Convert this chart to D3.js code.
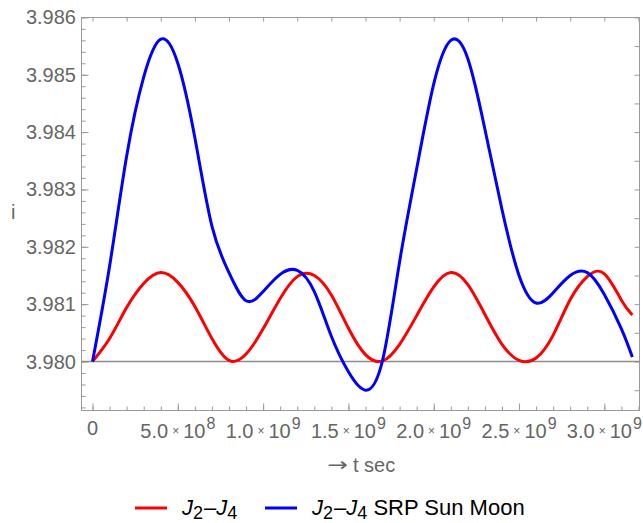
<!DOCTYPE html>
<html>
<head>
<meta charset="utf-8">
<script src="https://cdn.jsdelivr.net/npm/d3@7"></script>
<style>
  body { margin: 0; background: #fff; }
  svg { display: block; font-family: "Liberation Sans", Arial, sans-serif; }
</style>
</head>
<body>
<div id="chart"></div>
<script>
// time samples (units of 1e8 s)
var tSamples = [0, 1, 2, 3, 4, 5, 6, 7, 8, 9, 10, 11, 12, 13, 14, 15, 16, 17, 18, 19, 20,
  21, 22, 23, 24, 25, 26, 27, 28, 29, 30, 31, 31.64];

// inclination, J2-J4 only
var incJ2J4 = [3.98000, 3.98040, 3.98094, 3.98136, 3.98155, 3.98138, 3.98096, 3.98040, 3.98002,
  3.98013, 3.98057, 3.98110, 3.98148, 3.98150, 3.98116, 3.98058, 3.98012, 3.98001, 3.98030,
  3.98080, 3.98130, 3.98155, 3.98134, 3.98082, 3.98030, 3.98002, 3.98006, 3.98046, 3.98108,
  3.98148, 3.98153, 3.98107, 3.98081];

// inclination, J2-J4 + SRP + Sun + Moon
var incFull = [3.98000, 3.98166, 3.98358, 3.98496, 3.98562, 3.98520, 3.98390, 3.98236, 3.98155,
  3.98106, 3.98122, 3.98152, 3.98159, 3.98122, 3.98044, 3.97982, 3.97950, 3.98002, 3.98174,
  3.98336, 3.98484, 3.98560, 3.98528, 3.98405, 3.98265, 3.98150, 3.98102, 3.98120, 3.98150,
  3.98155, 3.98117, 3.98057, 3.98008];

var xTicks = [0, 5e8, 1e9, 1.5e9, 2e9, 2.5e9, 3e9];
var xMant = ["0", "5.0", "1.0", "1.5", "2.0", "2.5", "3.0"];
var xExp = ["", "8", "9", "9", "9", "9", "9"];
var yTicks = [3.980, 3.981, 3.982, 3.983, 3.984, 3.985, 3.986];
var yTickLabels = ["3.980", "3.981", "3.982", "3.983", "3.984", "3.985", "3.986"];

var seriesNames = ["", " SRP Sun Moon"];
var seriesColours = ["#ff0000", "#0000ff"];

var width = 643, height = 523;
var L = 81.5, R = 639.5, T = 17.5, B = 410.5;
var frameColour = "#9a9a9a", labelColour = "#666";

var x = d3.scaleLinear().domain([-0.645e8, 32.06e8]).range([L, R]);
var y = d3.scaleLinear().domain([3.979146, 3.985998]).range([B, T]);

var svg = d3.select("#chart").append("svg")
  .attr("width", width)
  .attr("height", height);

// ticks (all pointing inward)
function tickAxis(axis, vals, size, tr) {
  var g = svg.append("g")
    .attr("transform", tr)
    .call(axis.tickValues(vals).tickSize(size).tickSizeOuter(0).tickFormat(""));
  g.select(".domain").remove();
  g.selectAll("line").attr("stroke", frameColour).attr("stroke-width", 1);
  return g;
}
var minorX = d3.range(0, 33).map(function(d) { return d * 1e8; });
var minorY = d3.range(0, 35).map(function(d) { return 3.9792 + d * 0.0002; })
  .filter(function(d) { return d <= 3.98601; });
var topX = d3.range(0, 17).map(function(d) { return d * 2e8; });
var rightY = d3.range(0, 14).map(function(d) { return 3.9795 + d * 0.0005; });

tickAxis(d3.axisBottom(x), minorX, -4, "translate(0," + B + ")");
tickAxis(d3.axisBottom(x), xTicks, -7, "translate(0," + B + ")");
tickAxis(d3.axisTop(x), topX, -4, "translate(0," + T + ")");
tickAxis(d3.axisLeft(y), minorY, -4, "translate(" + L + ",0)");
tickAxis(d3.axisLeft(y), yTicks, -7, "translate(" + L + ",0)");
tickAxis(d3.axisRight(y), rightY, -5, "translate(" + R + ",0)");

// frame
svg.append("rect")
  .attr("x", L).attr("y", T)
  .attr("width", R - L).attr("height", B - T)
  .attr("fill", "none")
  .attr("stroke", frameColour)
  .attr("stroke-width", 1);

// reference line at 3.980
svg.append("line")
  .attr("x1", L).attr("x2", R)
  .attr("y1", y(3.980)).attr("y2", y(3.980))
  .attr("stroke", "#8c8c8c")
  .attr("stroke-width", 1.3);

// curves
var line = d3.line()
  .x(function(d) { return x(d[0] * 1e8); })
  .y(function(d) { return y(d[1]); })
  .curve(d3.curveNatural);

[incJ2J4, incFull].forEach(function(vals, k) {
  svg.append("path")
    .datum(tSamples.map(function(t, i) { return [t, vals[i]]; }))
    .attr("fill", "none")
    .attr("stroke", seriesColours[k])
    .attr("stroke-width", 3)
    .attr("stroke-linejoin", "round")
    .attr("d", line);
});

// y tick labels
svg.append("g").selectAll("text")
  .data(yTicks)
  .enter().append("text")
  .attr("x", 76)
  .attr("y", function(d) { return y(d) + 7; })
  .attr("text-anchor", "end")
  .attr("font-size", 20)
  .attr("fill", labelColour)
  .text(function(d, i) { return yTickLabels[i]; });

// x tick labels: mantissa x 10^exp
xTicks.forEach(function(v, i) {
  var t = svg.append("text")
    .attr("x", x(v))
    .attr("y", i === 0 ? 435 : 438)
    .attr("text-anchor", "middle")
    .attr("font-size", 20)
    .attr("fill", labelColour);
  t.append("tspan").text(xMant[i]);
  if (xExp[i]) {
    t.append("tspan").attr("font-size", 12).attr("dx", 4).attr("dy", -3).text("\u00d7");
    t.append("tspan").attr("dx", 4).attr("dy", 3).text("10");
    t.append("tspan").attr("font-size", 16).attr("dx", 1).attr("dy", -9).text(xExp[i]);
  }
});

// axis labels
svg.append("text")
  .attr("x", 11).attr("y", 219)
  .attr("font-size", 20)
  .attr("fill", labelColour)
  .text("i");

svg.append("text")
  .attr("transform", "translate(337.5,471) scale(1.3,1)")
  .attr("text-anchor", "middle")
  .attr("font-family", "DejaVu Sans")
  .attr("font-size", 19)
  .attr("fill", labelColour)
  .text("\u2192");
svg.append("text")
  .attr("x", 353).attr("y", 472)
  .attr("font-size", 20)
  .attr("fill", labelColour)
  .text("t sec");

// legend
var legendX = [135, 265];
seriesNames.forEach(function(name, k) {
  var lx = legendX[k];
  svg.append("line")
    .attr("x1", lx).attr("x2", lx + 32)
    .attr("y1", 508).attr("y2", 508)
    .attr("stroke", seriesColours[k])
    .attr("stroke-width", 3);
  var t = svg.append("text")
    .attr("x", lx + 47).attr("y", 515)
    .attr("font-size", 22)
    .attr("fill", "#000");
  t.append("tspan").attr("font-style", "italic").text("J");
  t.append("tspan").attr("font-size", 18).attr("dy", 4).text("2");
  t.append("tspan").attr("dy", -4).attr("dx", 1).text("\u2013");
  t.append("tspan").attr("font-style", "italic").text("J");
  t.append("tspan").attr("font-size", 18).attr("dy", 4).text("4");
  if (name) t.append("tspan").attr("dy", -4).text(name);
});
</script>
</body>
</html>
